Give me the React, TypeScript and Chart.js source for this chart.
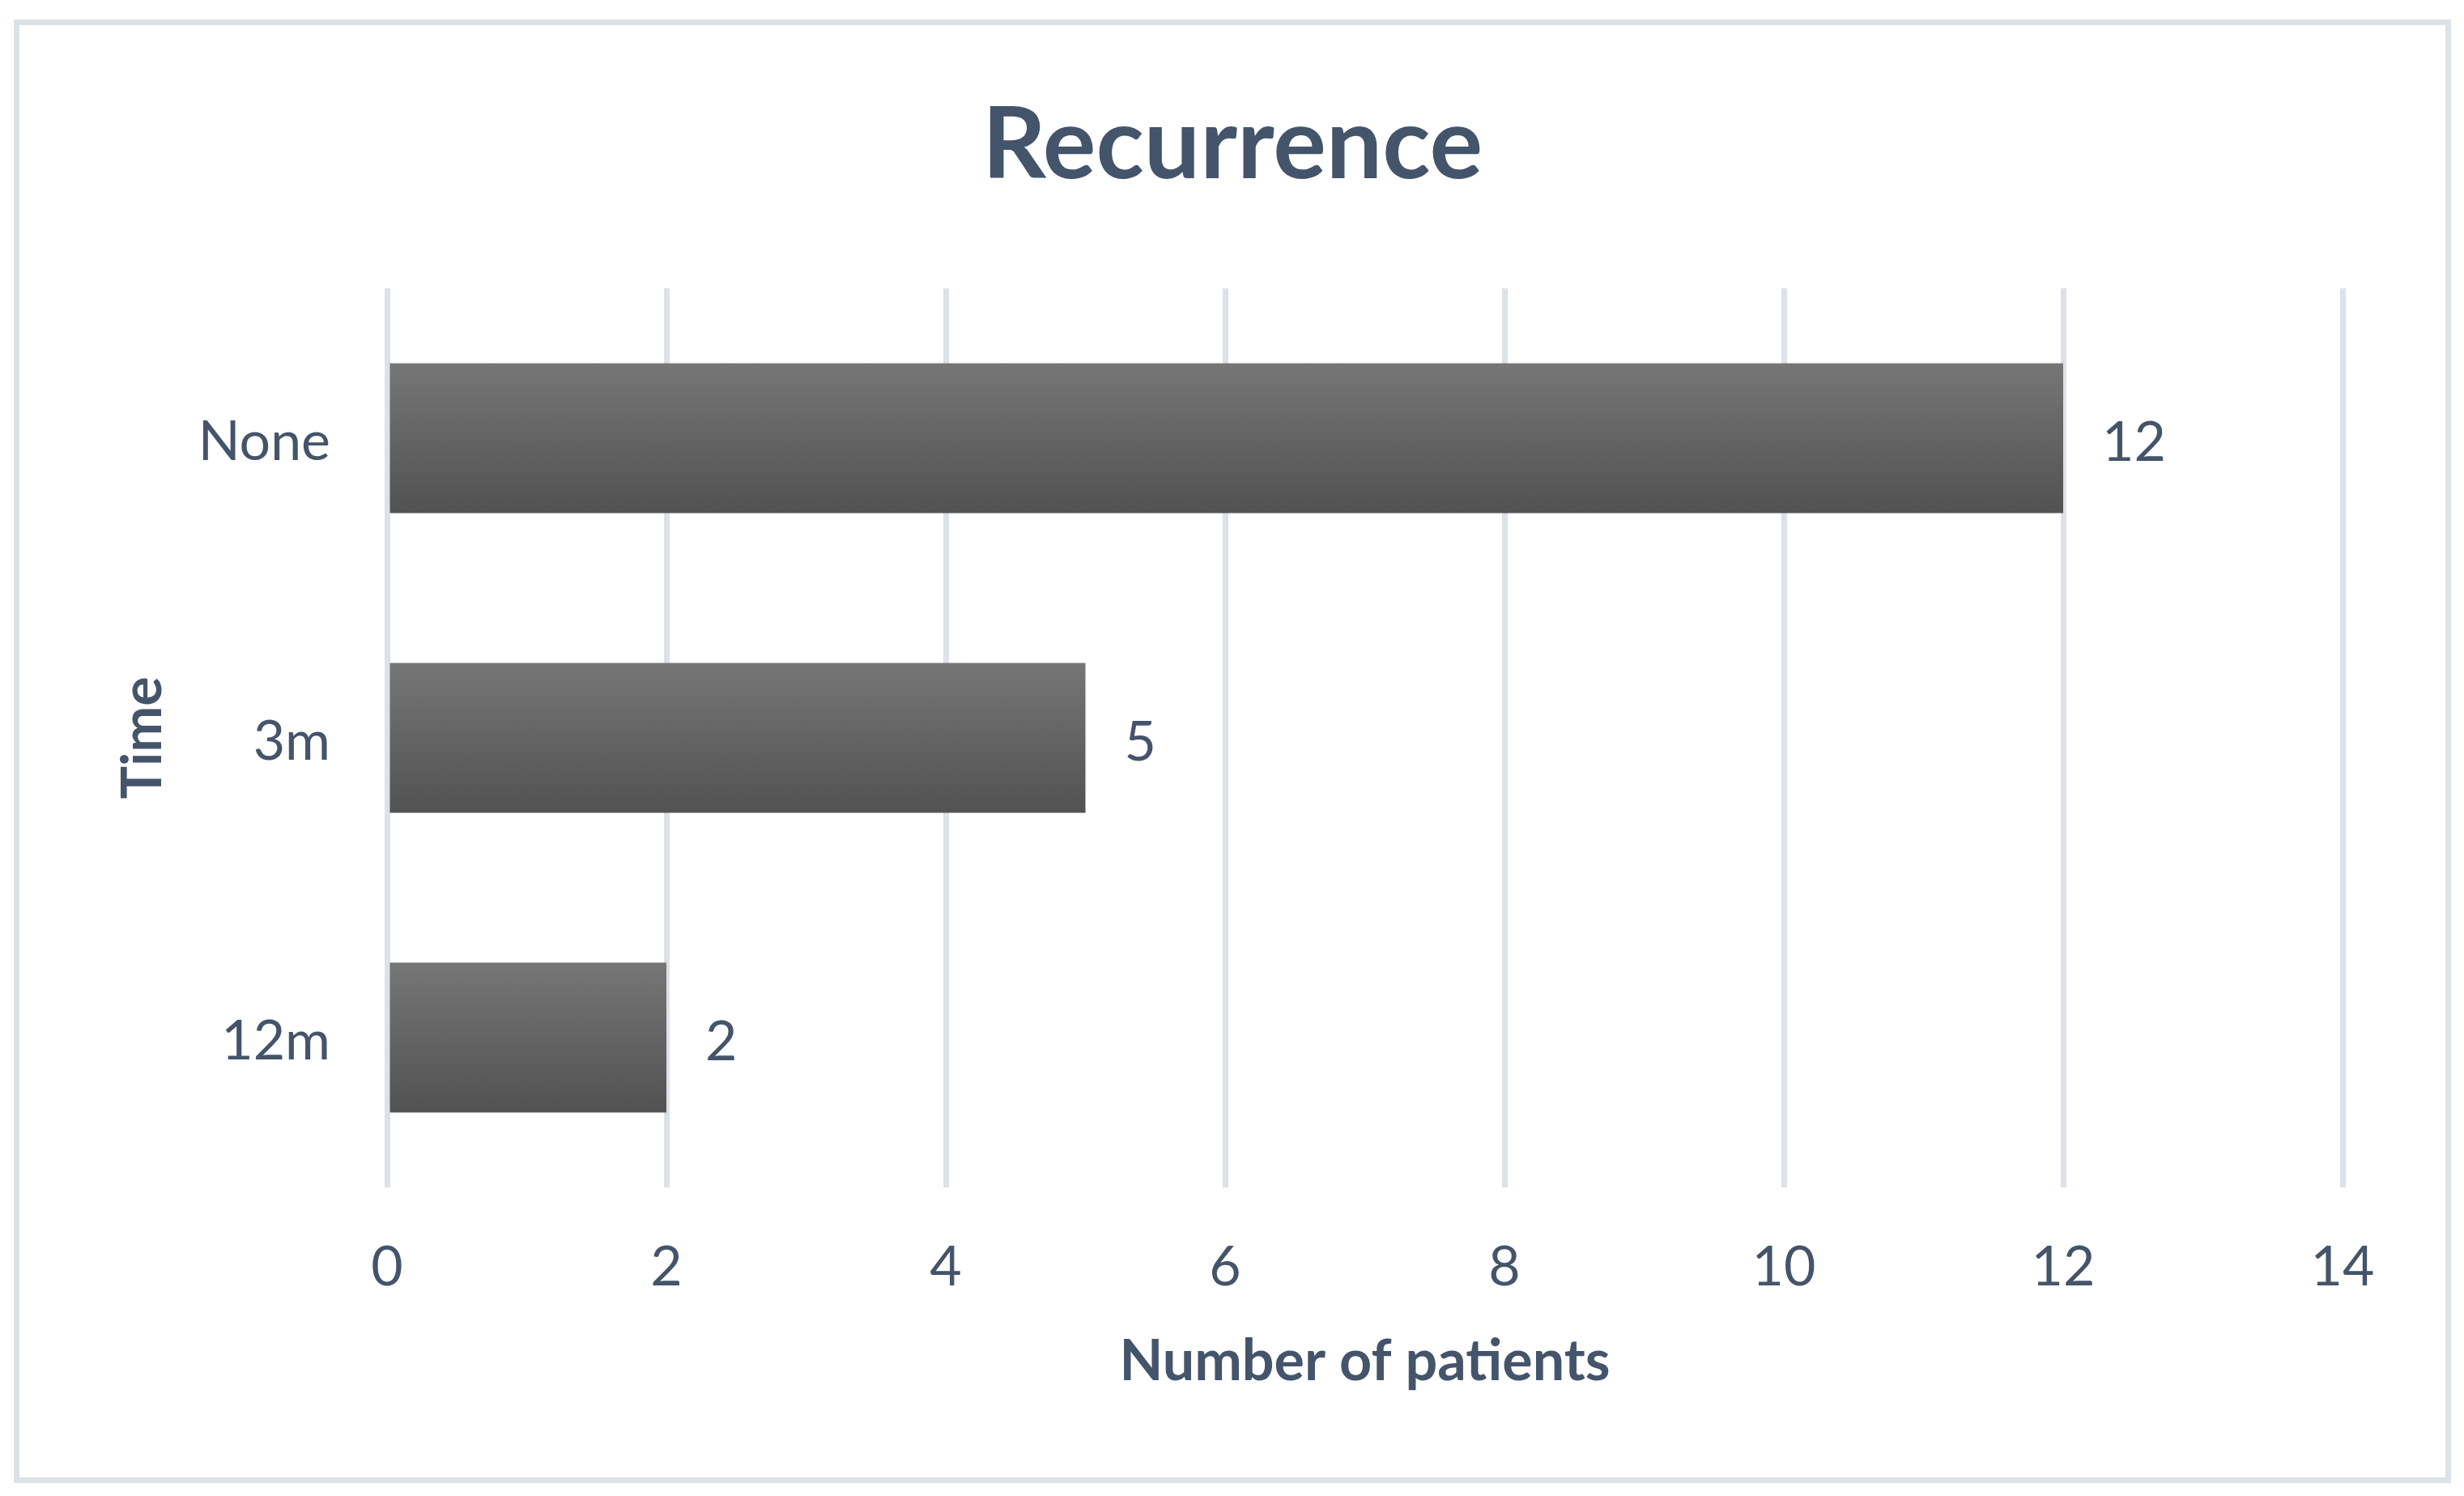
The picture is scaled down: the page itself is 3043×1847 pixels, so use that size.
import React, { useEffect, useRef } from "react";
import { Chart, registerables } from "chart.js";

Chart.register(...registerables);

const categories = ["None", "3m", "12m"];
const patientCounts = [12, 5, 2];
const xMin = 0;
const xMax = 14;
const xStep = 2;
const chartTitle = "Recurrence";
const xTitle = "Number of patients";
const yTitle = "Time";

const TEXT = "#44546a";
const GRID = "#dde1e8";
const FONT = "Lato";

const W = 3043;
const H = 1847;

const framePlugin = {
  id: "frame",
  beforeDraw(chart: any) {
    const ctx = chart.ctx;
    ctx.save();
    ctx.fillStyle = "#ffffff";
    ctx.fillRect(0, 0, chart.width, chart.height);
    ctx.strokeStyle = GRID;
    ctx.lineWidth = 7;
    ctx.strokeRect(20.5, 27.5, 3003, 1800);
    ctx.fillStyle = TEXT;
    ctx.font = `bold 123px ${FONT}`;
    ctx.textAlign = "center";
    ctx.textBaseline = "alphabetic";
    ctx.fillText(chartTitle, 1522, 220);
    ctx.restore();
  },
};

const valueLabelPlugin = {
  id: "valueLabels",
  afterDatasetsDraw(chart: any) {
    const ctx = chart.ctx;
    const meta = chart.getDatasetMeta(0);
    const data = chart.data.datasets[0].data;
    ctx.save();
    ctx.fillStyle = TEXT;
    ctx.font = `68px ${FONT}`;
    ctx.textAlign = "left";
    ctx.textBaseline = "middle";
    meta.data.forEach((bar: any, i: number) => {
      ctx.fillText(String(data[i]), bar.x + 48, bar.y + 6);
    });
    ctx.restore();
  },
};

export default function App() {
  const ref = useRef<HTMLCanvasElement | null>(null);

  useEffect(() => {
    if (!ref.current) return;
    const chart = new Chart(ref.current, {
      type: "bar",
      data: {
        labels: categories,
        datasets: [
          {
            data: patientCounts,
            backgroundColor: (ctx: any) => {
              const c = ctx.chart;
              const ys = c.scales && c.scales.y;
              if (!ys || ctx.dataIndex === undefined || !c.chartArea) return "#636363";
              const yc = ys.getPixelForValue(ctx.dataIndex);
              const half = (c.chartArea.bottom - c.chartArea.top) / categories.length / 4;
              const g = c.ctx.createLinearGradient(0, yc - half, 0, yc + half);
              g.addColorStop(0, "#767676");
              g.addColorStop(1, "#525252");
              return g;
            },
            borderWidth: 0,
            categoryPercentage: 0.5,
            barPercentage: 1,
          },
        ],
      },
      options: {
        indexAxis: "y",
        responsive: false,
        animation: false,
        devicePixelRatio: 1,
        layout: { padding: { left: 0, right: 150, top: 356, bottom: 0 } },
        plugins: {
          legend: { display: false },
          title: { display: false },
          tooltip: { enabled: false },
        },
        scales: {
          x: {
            min: xMin,
            max: xMax,
            ticks: {
              stepSize: xStep,
              color: TEXT,
              font: { family: FONT, size: 68 },
              padding: 58,
            },
            grid: { color: GRID, lineWidth: 7, drawTicks: false },
            border: { display: false },
            title: {
              display: true,
              text: xTitle,
              color: TEXT,
              font: { family: FONT, size: 70, weight: "bold" },
              padding: { top: 0, bottom: 124 },
            },
            afterFit: (s: any) => {
              s.height = 381;
            },
          },
          y: {
            ticks: {
              color: TEXT,
              font: { family: FONT, size: 68 },
              padding: 70,
              labelOffset: 5,
            },
            grid: { display: false, drawTicks: false },
            border: { display: false },
            title: {
              display: true,
              text: yTitle,
              color: TEXT,
              font: { family: FONT, size: 68, weight: "bold" },
              padding: { top: 136, bottom: 0 },
            },
            afterFit: (s: any) => {
              s.width = 478;
            },
          },
        },
      },
      plugins: [framePlugin, valueLabelPlugin],
    } as any);
    return () => chart.destroy();
  }, []);

  return (
    <div style={{ position: "fixed", left: 0, top: 0, width: W, height: H, background: "#fff" }}>
      <canvas ref={ref} width={W} height={H} style={{ width: W, height: H, display: "block" }} />
    </div>
  );
}
